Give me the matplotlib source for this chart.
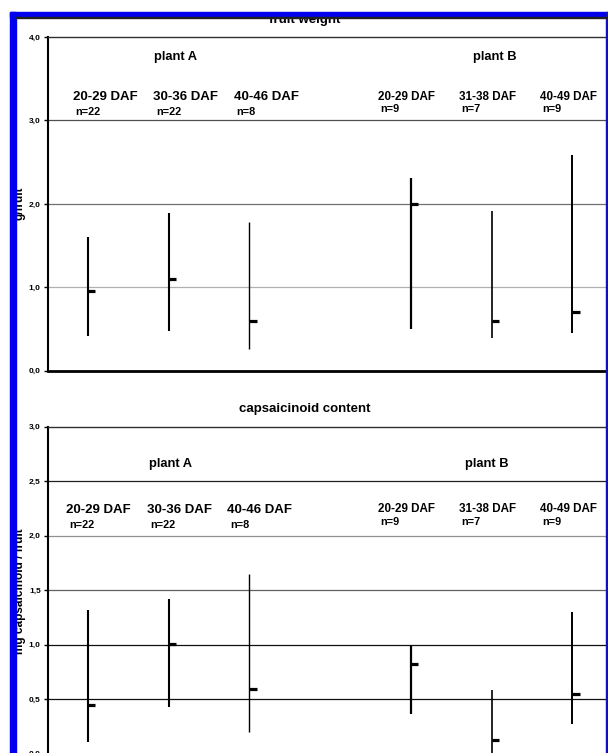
import numpy as np
import matplotlib.pyplot as plt
from matplotlib import transforms
from matplotlib.patches import Rectangle
from matplotlib.ticker import FuncFormatter

plt.rcParams['font.family'] = ['Liberation Sans', 'DejaVu Sans']

# Data
stages_a = ["20-29 DAF", "30-36 DAF", "40-46 DAF"]
stages_b = ["20-29 DAF", "31-38 DAF", "40-49 DAF"]
n_a = [22, 22, 8]
n_b = [9, 7, 9]

# fruit weight (g/fruit): mean, lower and upper end of the range
fw_mean = [0.95, 1.10, 0.60, 2.00, 0.60, 0.70]
fw_low = [0.42, 0.48, 0.26, 0.50, 0.39, 0.45]
fw_high = [1.60, 1.89, 1.78, 2.31, 1.92, 2.58]

# capsaicinoid content (mg capsaicinoid / fruit)
cap_mean = [0.45, 1.01, 0.59, 0.82, 0.13, 0.55]
cap_low = [0.11, 0.43, 0.20, 0.36, 0.00, 0.27]
cap_high = [1.32, 1.42, 1.65, 0.99, 0.58, 1.30]

W, H = 608, 753
fig = plt.figure(figsize=(W / 100, H / 100), dpi=100)
# pixel coordinates measured from the top-left corner
px = transforms.Affine2D().scale(1 / W, -1 / H).translate(0, 1) + fig.transFigure

# plant A at 0.5..2.5, plant B at 4.5..6.5
xpos = np.r_[np.arange(3), np.arange(3) + 4] + 0.5
bar_lw = [1.5, 1.5, 1.0, 1.6, 1.2, 1.4]
comma = FuncFormatter(lambda v, p: f"{v:.1f}".replace('.', ','))


def panel(rect, mean, low, high, ylim, step, grid_colors):
    ax = fig.add_axes(rect)
    ax.set_xlim(0, 7)
    ax.set_ylim(*ylim)
    ticks = np.arange(ylim[0], ylim[1] + step / 2, step)
    ax.set_yticks(ticks)
    ax.yaxis.set_major_formatter(comma)
    ax.set_xticks([])
    for val, col in zip(ticks[1:-1], grid_colors):
        ax.axhline(val, color=col, lw=0.9, zorder=1)
    ax.vlines(xpos, low, high, color='black', lw=bar_lw, zorder=3)
    ax.hlines(mean, xpos, xpos + 0.09, color='black', lw=2.3, zorder=3)
    ax.tick_params(axis='y', length=3, width=1, pad=2, labelsize=6)
    for lab in ax.get_yticklabels():
        lab.set_fontweight('bold')
    ax.spines['right'].set_visible(False)
    ax.spines['top'].set_color('#303030')
    ax.spines['top'].set_linewidth(1.0)
    ax.spines['left'].set_linewidth(1.5)
    ax.spines['bottom'].set_linewidth(2.0)
    return ax


def labels(ax, y_plant, y_daf, y_n, daf_off, n_off, plant_off, size_a):
    tr = transforms.blended_transform_factory(ax.transData, px)
    ax.text(1.5 + plant_off[0], y_plant, "plant A", transform=tr, ha='center',
            fontsize=9.3, fontweight='bold')
    ax.text(5.5 + plant_off[1], y_plant, "plant B", transform=tr, ha='center',
            fontsize=9.3, fontweight='bold')
    for i in range(3):
        ax.text(xpos[i] + daf_off[0], y_daf[0], stages_a[i], transform=tr,
                ha='center', fontsize=size_a, fontweight='bold')
        ax.text(xpos[i] - n_off[0], y_n[0], f"n={n_a[i]}", transform=tr,
                ha='left', fontsize=7.8, fontweight='bold')
        ax.text(xpos[i + 3] + daf_off[1], y_daf[1], stages_b[i], transform=tr,
                ha='center', fontsize=8.4, fontweight='bold')
        ax.text(xpos[i + 3] - n_off[1], y_n[1], f"n={n_b[i]}", transform=tr,
                ha='left', fontsize=7.8, fontweight='bold')


left = 47.7 / W
width = 565 / W

# fruit weight
ax1 = panel([left, 1 - 370.7 / H, width, (370.7 - 37) / H],
            fw_mean, fw_low, fw_high, (0, 4), 1.0,
            ['#b0b0b0', '#707070', '#505050'])
labels(ax1, 60, (100, 99.5), (115, 111.7), (0.21, -0.05), (0.16, 0.375),
       (0.08, 0.04), 9.5)

# capsaicinoid content
ax2 = panel([left, 1 - 753.7 / H, width, (753.7 - 426.7) / H],
            cap_mean, cap_low, cap_high, (0, 3), 0.5,
            ['#101010', '#101010', '#606060', '#909090', '#202020'])
labels(ax2, 466.7, (512.7, 511.7), (528.3, 525), (0.13, -0.05), (0.235, 0.375),
       (0.02, -0.06), 9.5)

fig.text(305, 23, "fruit weight", transform=px, ha='center', va='baseline',
         fontsize=9.5, fontweight='bold')
fig.text(305, 411.7, "capsaicinoid content", transform=px, ha='center',
         va='baseline', fontsize=9.5, fontweight='bold')
fig.text(20, 203.7, "g/fruit", transform=px, rotation=90, ha='center',
         va='center', fontsize=8.5, fontweight='bold')
fig.text(20, 591, "mg capsaicinoid / fruit", transform=px, rotation=90,
         ha='center', va='center', fontsize=8.5, fontweight='bold')

# scan border: white margin, blue frame
fig.add_artist(Rectangle((0, 0), W, 12, transform=px, color='white', zorder=10))
fig.add_artist(Rectangle((10, 12), W, 5, transform=px, color='#0000ee', zorder=11))
fig.add_artist(Rectangle((10, 12), 5.5, H, transform=px, color='#0000ee', zorder=11))
fig.add_artist(Rectangle((606, 12), 2, H, transform=px, color='#1010c0', zorder=11))
fig.add_artist(Rectangle((15, 16.6), W, 0.9, transform=px, color='#202020', zorder=11))

fig.savefig("out.png", dpi=100)
